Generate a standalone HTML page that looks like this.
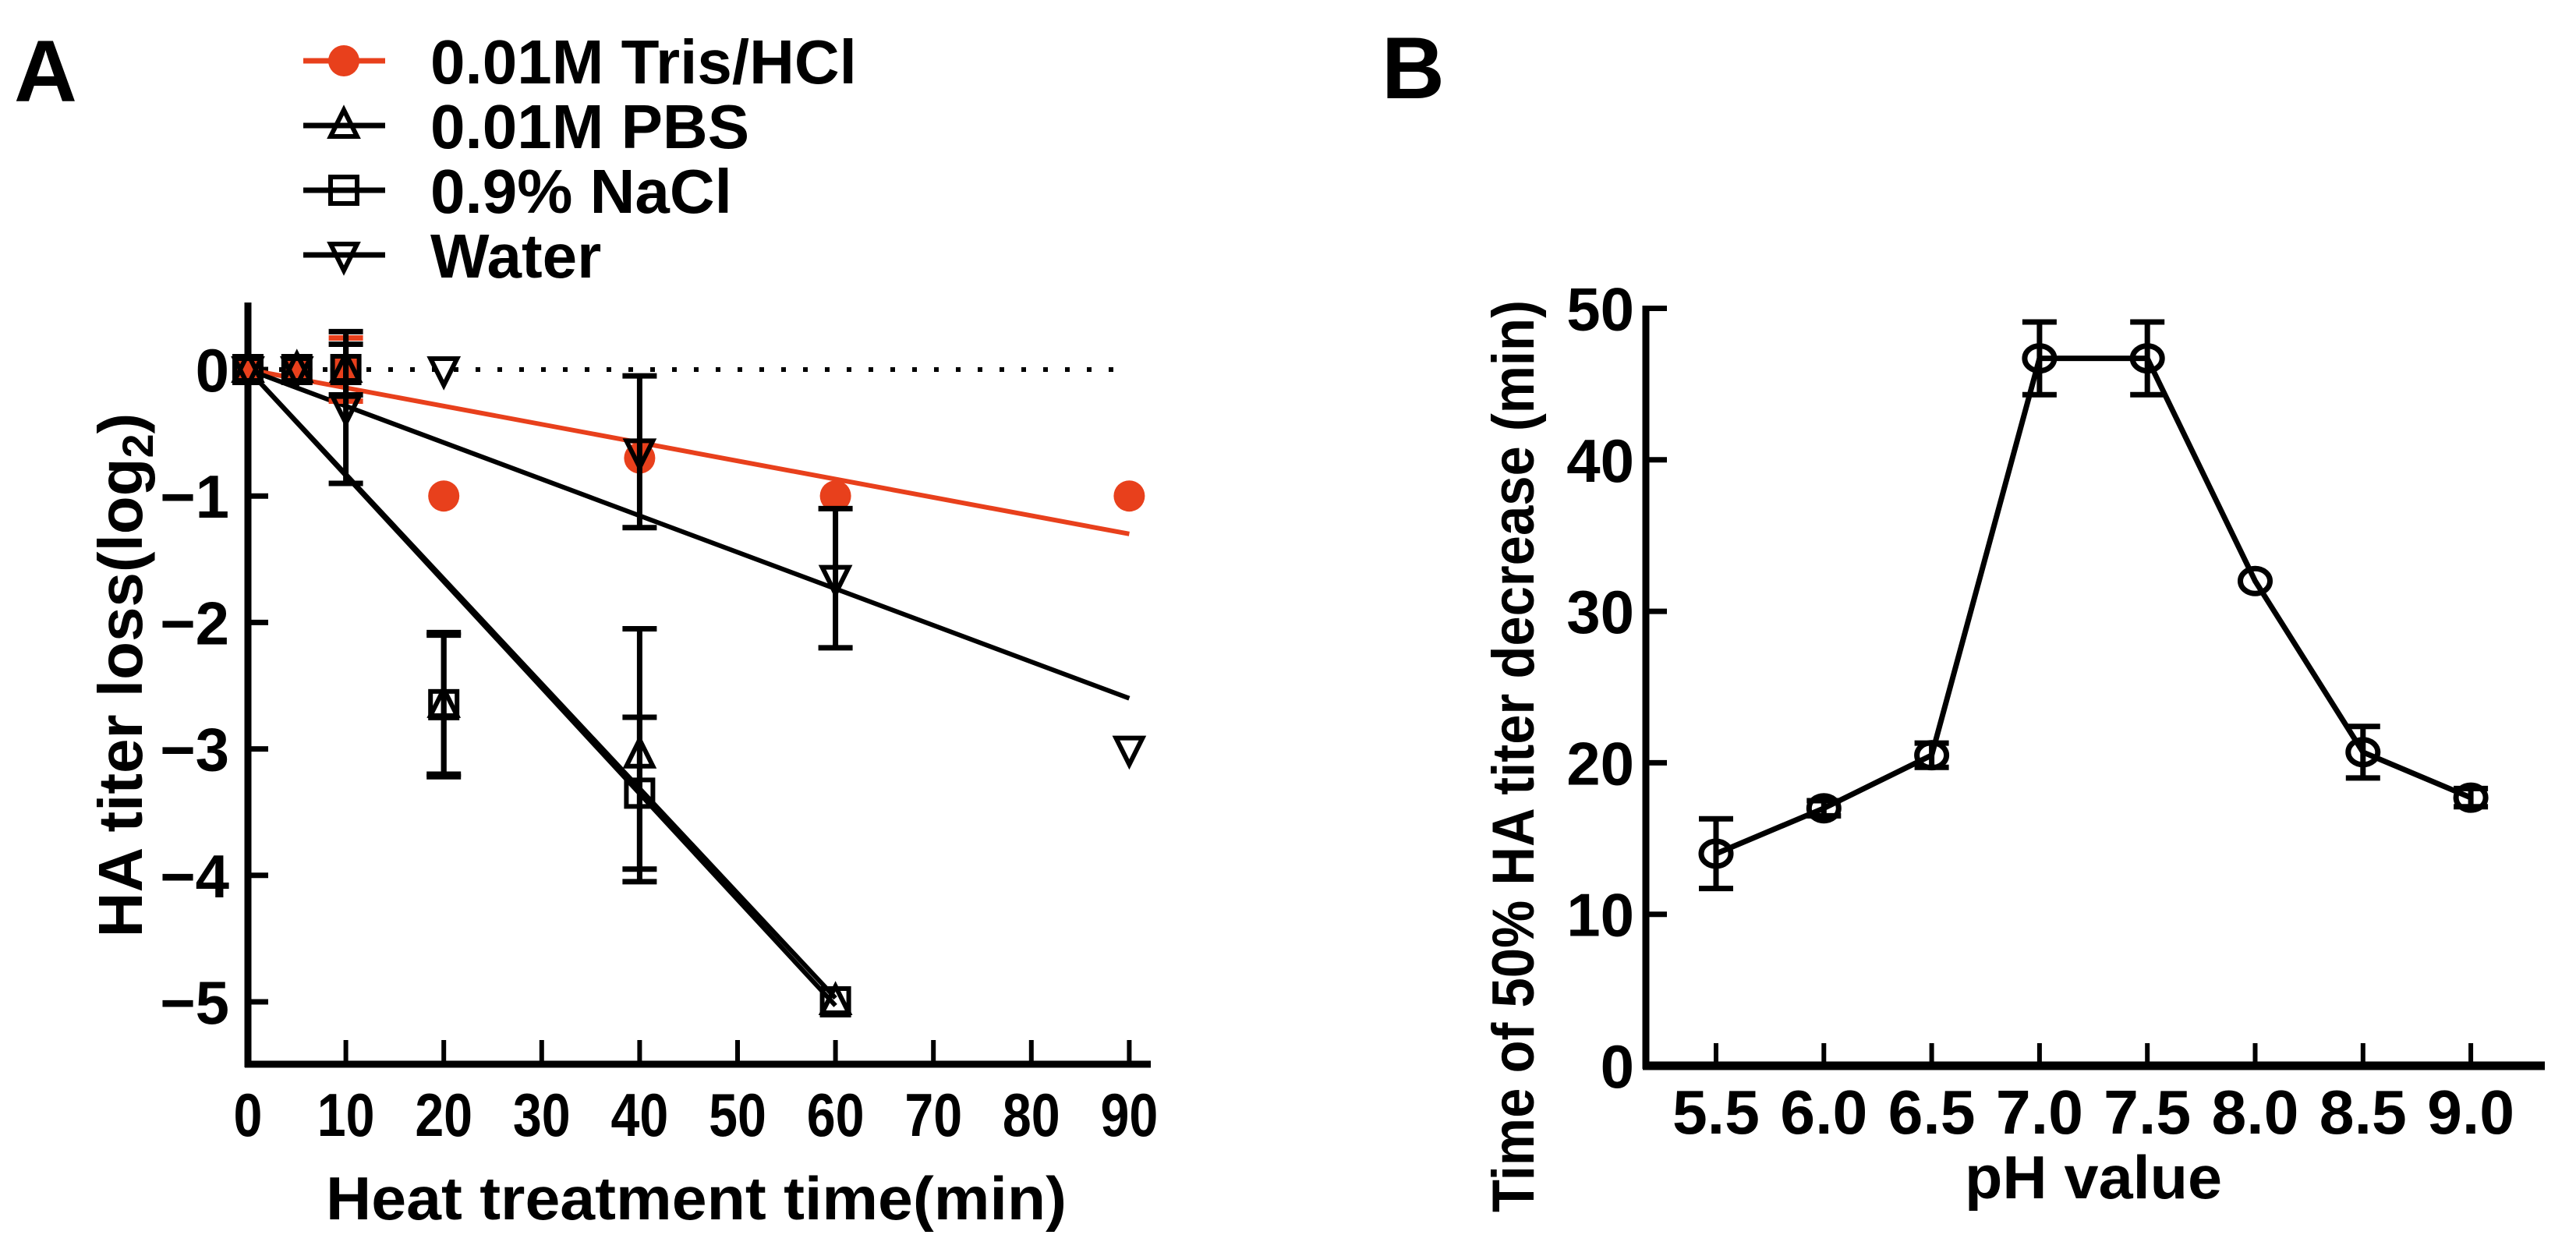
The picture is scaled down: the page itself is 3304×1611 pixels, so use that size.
<!DOCTYPE html>
<html><head><meta charset="utf-8"><style>
html,body{margin:0;padding:0;background:#fff;}
svg{display:block;font-family:"Liberation Sans",Arial,sans-serif;font-weight:bold;}
</style></head><body>
<svg id="fig" width="3304" height="1611" viewBox="0 0 3304 1611" xmlns="http://www.w3.org/2000/svg">
<g id="pa"></g>
<g id="pb"></g>
</svg>
<script>
// ---- Panel A data ----
const aTimes = [0, 5, 10, 20, 40, 60, 90];
const aXTicks = [0, 10, 20, 30, 40, 50, 60, 70, 80, 90];
const aYTicks = [0, -1, -2, -3, -4, -5];
const aYTickLabels = ["0", "\u22121", "\u22122", "\u22123", "\u22124", "\u22125"];
const trisX = [0, 5, 10, 20, 40, 60, 90];
const trisY = [0, 0, 0, -1, -0.7, -1, -1];
const trisErr = [0, 0, 0.25, 0, 0, 0, 0];
const trisFit = [0, -1.3];
const pbsX = [0, 5, 10, 20, 40, 60];
const pbsY = [0, 0, 0, -2.65, -3.05, -5];
const pbsErr = [0, 0, 0.2, 0.55, 1.0, 0];
const pbsFit = [0, -4.97];
const naclX = [0, 5, 10, 20, 40, 60];
const naclY = [0, 0, 0, -2.65, -3.35, -5];
const naclErr = [0, 0, 0, 0.57, 0.6, 0];
const naclFit = [0, -5.03];
const waterX = [0, 5, 10, 20, 40, 60, 90];
const waterY = [0, 0, -0.3, 0, -0.65, -1.65, -3];
const waterErr = [0, 0, 0.6, 0, 0.6, 0.55, 0];
const waterFit = [0, -2.6];
const fitEndA = [90, 60, 60, 90];
const legendLabels = ["0.01M Tris/HCl", "0.01M PBS", "0.9% NaCl", "Water"];

// ---- Panel B data ----
const phX = [5.5, 6.0, 6.5, 7.0, 7.5, 8.0, 8.5, 9.0];
const phLabels = ["5.5", "6.0", "6.5", "7.0", "7.5", "8.0", "8.5", "9.0"];
const phY = [14, 17, 20.5, 46.7, 46.7, 32, 20.7, 17.7];
const phErr = [2.3, 0.5, 0.8, 2.4, 2.4, 0, 1.7, 0.6];
const bYTicks = [0, 10, 20, 30, 40, 50];

const NS = "http://www.w3.org/2000/svg";
function mk(parent, tag, attrs, text) {
  const e = document.createElementNS(NS, tag);
  for (const k in attrs) e.setAttribute(k, attrs[k]);
  if (text !== undefined) e.textContent = text;
  parent.appendChild(e);
  return e;
}
const RED = "#e8401c";

// ---------- Panel A ----------
const pa = document.getElementById("pa");
const ax = v => 318 + v * 12.56;
const ay = v => 474 - v * 162.2;

let t = mk(pa, "text", {x: 18, y: 130, "font-size": 112}, "A");



let axl = mk(pa, "line", {x1: 318, y1: 388, x2: 318, y2: 1369, stroke: "#000", "stroke-width": 9});


axl = mk(pa, "line", {x1: 314, y1: 1365, x2: 1476, y2: 1365, stroke: "#000", "stroke-width": 9});



aXTicks.forEach(v => {
  if (v > 0) {
    const l = mk(pa, "line", {x1: ax(v), y1: 1365, x2: ax(v), y2: 1334, stroke: "#000", "stroke-width": 6});
    
    
  }
  const tx = mk(pa, "text", {x: ax(v), y: 1457, "font-size": 78, "text-anchor": "middle", transform: `translate(${ax(v)},0) scale(0.85,1) translate(${-ax(v)},0)`}, String(v));
  
  
});
aYTicks.forEach((v, i) => {
  const l = mk(pa, "line", {x1: 318, y1: ay(v), x2: 344, y2: ay(v), stroke: "#000", "stroke-width": 7});
  
  
  const tx = mk(pa, "text", {x: 294, y: ay(v) + 28, "font-size": 78, "text-anchor": "end"}, aYTickLabels[i]);
  
  
});
t = mk(pa, "text", {x: 893, y: 1564, "font-size": 78, "text-anchor": "middle", textLength: 950, lengthAdjust: "spacingAndGlyphs"}, "Heat treatment time(min)");


t = mk(pa, "text", {x: 0, y: 0, "font-size": 80, "text-anchor": "middle", transform: "translate(182,866) rotate(-90)"});


t.appendChild(document.createTextNode("HA titer loss(log"));
mk(t, "tspan", {"font-size": 56, dy: 14}, "2");
mk(t, "tspan", {dy: -14}, ")");

let dl = mk(pa, "line", {x1: 330, y1: ay(0), x2: 1450, y2: ay(0), stroke: "#000", "stroke-width": 6, "stroke-dasharray": "6 22"});



const fits = [[trisFit, RED], [pbsFit, "#000"], [naclFit, "#000"], [waterFit, "#000"]];
const fitNames = ['fit-line-tris', 'fit-line-pbs', 'fit-line-nacl', 'fit-line-water'];
fits.forEach((f, i) => {
  const l = mk(pa, "line", {x1: ax(0), y1: ay(f[0][0]), x2: ax(fitEndA[i]), y2: ay(f[0][1]), stroke: f[1], "stroke-width": 6});
  
  
});

function errBar(g, cx, cy, up, dn, color) {
  const e = mk(g, "path", {d: `M${cx},${cy - up}V${cy + dn}M${cx - 22},${cy - up}h44M${cx - 22},${cy + dn}h44`, stroke: color, "stroke-width": 7, fill: "none"});
  
  
}
function marker(g, kind, cx, cy, color) {
  let m;
  if (kind === "circle") m = mk(g, "circle", {cx, cy, r: 20, fill: color});
  else if (kind === "up") m = mk(g, "path", {d: `M${cx},${cy - 20}L${cx + 17},${cy + 14}H${cx - 17}Z`, fill: "none", stroke: color, "stroke-width": 6});
  else if (kind === "down") m = mk(g, "path", {d: `M${cx},${cy + 20}L${cx + 17},${cy - 14}H${cx - 17}Z`, fill: "none", stroke: color, "stroke-width": 6});
  else m = mk(g, "rect", {x: cx - 17, y: cy - 17, width: 34, height: 34, fill: "none", stroke: color, "stroke-width": 6});
  return m;
}
const series = [
  ["circle", trisX, trisY, trisErr, RED, "tris"],
  ["up", pbsX, pbsY, pbsErr, "#000", "pbs"],
  ["sq", naclX, naclY, naclErr, "#000", "nacl"],
  ["down", waterX, waterY, waterErr, "#000", "water"]
];
series.forEach(s => {
  const g = mk(pa, "g", {});
  
  
  s[1].forEach((xv, i) => {
    const cx = ax(xv), cy = ay(s[2][i]);
    if (s[3][i] > 0) errBar(g, cx, cy, s[3][i] * 162.2, s[3][i] * 162.2, s[4]);
    const m = marker(g, s[0], cx, cy, s[4]);
    
    
  });
});

const legKinds = ["circle", "up", "sq", "down"];
const legColors = [RED, "#000", "#000", "#000"];
legendLabels.forEach((lab, i) => {
  const y = 78 + i * 83;
  const g = mk(pa, "g", {});
  
  
  mk(g, "line", {x1: 389, y1: y, x2: 494, y2: y, stroke: legColors[i], "stroke-width": 7});
  const mm = marker(g, legKinds[i], 441, y, legColors[i]);
  
  
  const tx = mk(g, "text", {x: 552, y: y + 29, "font-size": 80}, lab);
  
  
});

// ---------- Panel B ----------
const pb = document.getElementById("pb");
const bx = v => 2201 + (v - 5.5) * 276.6;
const by = v => 1367 - v * 19.43;

t = mk(pb, "text", {x: 1772, y: 126, "font-size": 112}, "B");


axl = mk(pb, "line", {x1: 2111, y1: 392, x2: 2111, y2: 1371, stroke: "#000", "stroke-width": 9});


axl = mk(pb, "line", {x1: 2107, y1: 1367, x2: 3264, y2: 1367, stroke: "#000", "stroke-width": 11});


bYTicks.forEach(v => {
  const l = mk(pb, "line", {x1: 2111, y1: by(v), x2: 2138, y2: by(v), stroke: "#000", "stroke-width": 7});
  
  
  const tx = mk(pb, "text", {x: 2096, y: by(v) + 28, "font-size": 78, "text-anchor": "end"}, String(v));
  
  
});
phX.forEach((v, i) => {
  const l = mk(pb, "line", {x1: bx(v), y1: 1367, x2: bx(v), y2: 1338, stroke: "#000", "stroke-width": 6});
  
  
  const tx = mk(pb, "text", {x: bx(v), y: 1454, "font-size": 80, "text-anchor": "middle", textLength: 112, lengthAdjust: "spacingAndGlyphs"}, phLabels[i]);
  
  
});
t = mk(pb, "text", {x: 2685, y: 1537, "font-size": 78, "text-anchor": "middle", textLength: 330, lengthAdjust: "spacingAndGlyphs"}, "pH value");


t = mk(pb, "text", {x: 0, y: 0, "font-size": 76, "text-anchor": "middle", textLength: 1170, lengthAdjust: "spacingAndGlyphs", transform: "translate(1967,970) rotate(-90)"}, "Time of 50% HA titer decrease (min)");



const pts = phX.map((v, i) => `${bx(v)},${by(phY[i])}`).join(" ");
const pl = mk(pb, "polyline", {points: pts, fill: "none", stroke: "#000", "stroke-width": 7});


phX.forEach((v, i) => {
  const cx = bx(v), cy = by(phY[i]);
  if (phErr[i] > 0) errBar(pb, cx, cy, phErr[i] * 19.43, phErr[i] * 19.43, "#000");
  const c = mk(pb, "ellipse", {cx, cy, rx: 19, ry: 16, fill: "none", stroke: "#000", "stroke-width": 7});
  
  
});
</script>
</body></html>
